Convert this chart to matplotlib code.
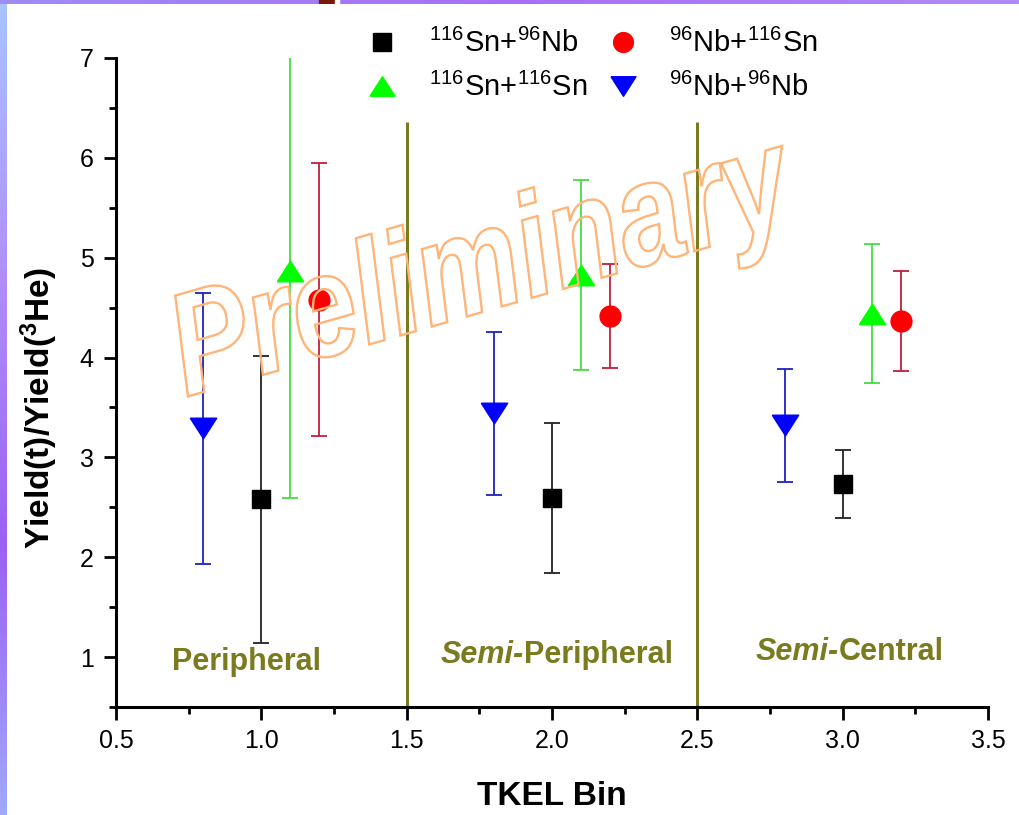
import numpy as np
import matplotlib
matplotlib.use("Agg")
import matplotlib.pyplot as plt
from matplotlib.colors import LinearSegmentedColormap
from matplotlib.font_manager import FontProperties
from matplotlib.lines import Line2D
from matplotlib.patches import PathPatch
from matplotlib.textpath import TextPath
from matplotlib.ticker import MultipleLocator, FormatStrFormatter
from matplotlib.transforms import Affine2D


plt.rcParams['font.family'] = ['Liberation Sans', 'DejaVu Sans']
plt.rcParams['mathtext.default'] = 'regular'

# yield ratio t / 3He for each system, per TKEL bin (bins shifted for visibility)
sn_nb_x = [1.0, 2.0, 3.0]
sn_nb_y = [2.58, 2.59, 2.73]
sn_nb_err = [1.44, 0.75, 0.34]

nb_sn_x = [1.2, 2.2, 3.2]
nb_sn_y = [4.58, 4.42, 4.37]
nb_sn_err = [1.37, 0.52, 0.50]

sn_sn_x = [1.1, 2.1, 3.1]
sn_sn_y = [4.87, 4.83, 4.44]
sn_sn_err = [2.28, 0.95, 0.70]

nb_nb_x = [0.8, 1.8, 2.8]
nb_nb_y = [3.29, 3.44, 3.32]
nb_nb_err = [1.36, 0.82, 0.57]

bin_edges = [1.5, 2.5]
edge_top = 6.36
region_names = ["Peripheral", "Semi-Peripheral", "Semi-Central"]

OLIVE = '#7a7a1e'

# wide triangles, pointing up and down
TRI_UP = [(-1, -0.78), (1, -0.78), (0, 0.78), (-1, -0.78)]
TRI_DOWN = [(-1, 0.78), (1, 0.78), (0, -0.78), (-1, 0.78)]

series = [
    (sn_nb_x, sn_nb_y, sn_nb_err, 's', 13.5, '#000000', '#222222',
     r'$^{116}$Sn+$^{96}$Nb'),
    (sn_sn_x, sn_sn_y, sn_sn_err, TRI_UP, 19, '#00ff00', '#44dd44',
     r'$^{116}$Sn+$^{116}$Sn'),
    (nb_sn_x, nb_sn_y, nb_sn_err, 'o', 15, '#ff0000', '#c0203c',
     r'$^{96}$Nb+$^{116}$Sn'),
    (nb_nb_x, nb_nb_y, nb_nb_err, TRI_DOWN, 19, '#0000ff', '#2020c0',
     r'$^{96}$Nb+$^{96}$Nb'),
]

fig = plt.figure(figsize=(10.19, 8.15), dpi=100)
ax = fig.add_axes([116 / 1019, 1 - 707 / 815, 872 / 1019, 649 / 815])

for x in bin_edges:
    ax.vlines(x, 0.5, edge_top, color=OLIVE, lw=2.2, zorder=1)

handles = []
for xs, ys, errs, mk, ms, fc, ec, label in series:
    ax.errorbar(xs, ys, yerr=errs, fmt='none', ecolor=ec, elinewidth=1.3,
                capsize=5.6, capthick=1.3, zorder=2)
    ax.plot(xs, ys, ls='none', marker=mk, ms=ms, mfc=fc, mec=fc, zorder=3)
    handles.append(Line2D([], [], ls='none', marker=mk, ms=ms * 0.95,
                          mfc=fc, mec=fc, label=label))

ax.set_xlim(0.5, 3.5)
ax.set_ylim(0.5, 7)
ax.xaxis.set_major_locator(MultipleLocator(0.5))
ax.xaxis.set_minor_locator(MultipleLocator(0.25))
ax.xaxis.set_major_formatter(FormatStrFormatter('%.1f'))
ax.yaxis.set_minor_locator(MultipleLocator(0.5))
ax.set_yticks([1, 2, 3, 4, 5, 6, 7])

for side in ('top', 'right'):
    ax.spines[side].set_visible(False)
for side in ('left', 'bottom'):
    ax.spines[side].set_linewidth(2.2)
ax.tick_params(which='major', direction='out', length=9, width=2,
               labelsize=18, pad=7)
ax.tick_params(which='minor', direction='out', length=5, width=2)

ax.set_xlabel('TKEL Bin', fontsize=24, fontweight='bold', labelpad=20)
ax.set_ylabel(r'Yield(t)/Yield($^{3}$He)', fontsize=24, fontweight='bold',
              labelpad=14)
ax.yaxis.label.set_y(0.461)

# region names along the bottom, "Semi-" in italics
ax.text(0.95, 0.95, region_names[0], color=OLIVE, fontsize=22,
        fontweight='bold', ha='center', va='center')
for xj, yj, name in [(1.904, 1.02, region_names[1]),
                     (2.987, 1.05, region_names[2])]:
    head, tail = name.split('-', 1)
    ax.text(xj, yj, head + '-', color=OLIVE, fontsize=22, fontweight='bold',
            style='italic', ha='right', va='center')
    ax.text(xj, yj, tail, color=OLIVE, fontsize=22, fontweight='bold',
            ha='left', va='center')

# outlined watermark, letters drawn a bit taller than wide
wm = TextPath((0, 0), 'Preliminary', size=1,
              prop=FontProperties(family='Liberation Sans', weight='bold',
                                  style='italic'))
wm_tf = (Affine2D().scale(1.17, 1.46).rotate_deg(16)
         .translate(1.86, 8.15 - 3.97) + fig.dpi_scale_trans)
fig.patches.append(PathPatch(wm, transform=wm_tf, facecolor='none',
                             edgecolor='#ffb478', lw=1.7, zorder=5))

fig.legend(handles=handles, ncol=2, loc='upper left',
           bbox_to_anchor=(362 / 1019, 1 - 29 / 815), frameon=False,
           fontsize=21, borderpad=0, borderaxespad=0, handlelength=1.4,
           handletextpad=0.9, columnspacing=0.5, labelspacing=0.5)

# slide border: gradient strip on the left, band along the top
edge = LinearSegmentedColormap.from_list(
    'edge', ['#a8c4ff', '#b090f8', '#9c60f4', '#a0a8f8'])
lax = fig.add_axes([0, 0, 7 / 1019, 1])
lax.imshow(np.linspace(0, 1, 256)[:, None], aspect='auto', cmap=edge,
           extent=(0, 1, 0, 1))
lax.axis('off')
tax = fig.add_axes([0, 1 - 4 / 815, 1, 4 / 815])
tax.imshow(np.linspace(0, 1, 256)[None, :], aspect='auto',
           cmap=LinearSegmentedColormap.from_list('top', ['#9f8cf6', '#a86ff6', '#b08af8']),
           extent=(0, 1, 0, 1))
tax.add_patch(plt.Rectangle((319 / 1019, 0), 16 / 1019, 1, color='#7a1808'))
tax.add_patch(plt.Rectangle((335 / 1019, 0), 4 / 1019, 1, color='white'))
tax.axis('off')

fig.savefig('out.png', dpi=100)
